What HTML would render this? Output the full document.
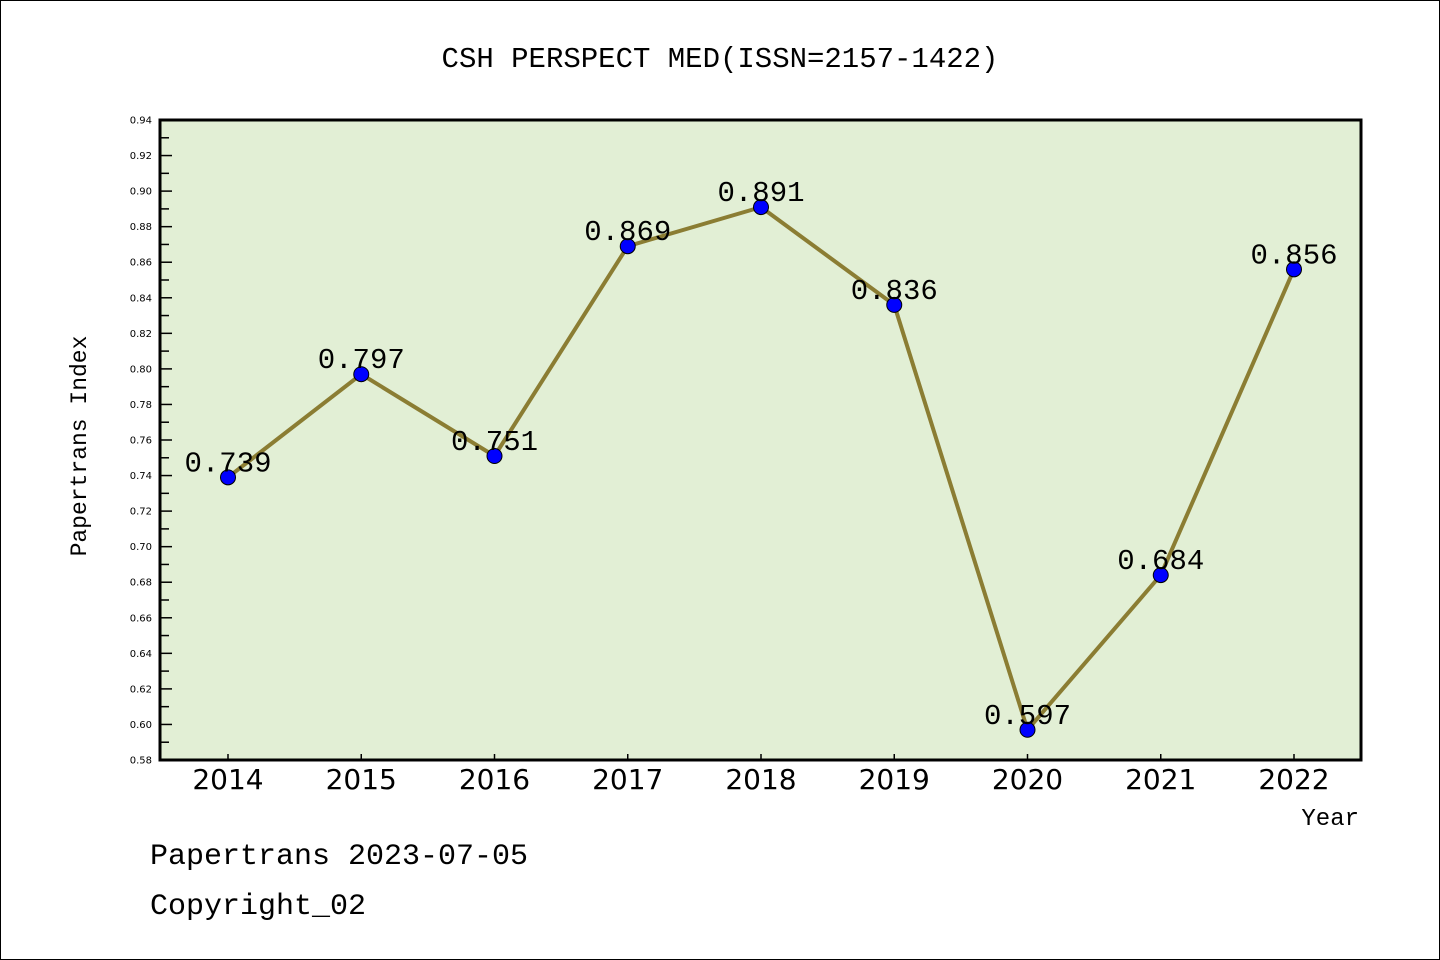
<!DOCTYPE html>
<html><head><meta charset="utf-8"><style>
html,body{margin:0;padding:0;background:#fff;}
svg{display:block;}
.mono{font-family:"Liberation Mono","WenQuanYi Zen Hei",monospace;}
.sans{font-family:"DejaVu Sans","Liberation Sans",sans-serif;}
</style></head><body>
<svg id="chart" width="1440" height="960" xmlns="http://www.w3.org/2000/svg">
<rect x="0.5" y="0.5" width="1439" height="959" fill="#fff" stroke="#000"/>
<text x="720" y="67" text-anchor="middle" font-size="29" class="mono">CSH PERSPECT MED(ISSN=2157-1422)</text>
<rect x="160" y="120" width="1201" height="640" fill="#e2efd5"/>
<g id="yaxis"></g>
<g id="xaxis"></g>
<g id="series"></g>
<rect x="160" y="120" width="1201" height="640" fill="none" stroke="#000" stroke-width="3"/>
<text x="86" y="446" transform="rotate(-90 86 446)" text-anchor="middle" font-size="23" class="mono">Papertrans Index</text>
<text x="1359" y="825" text-anchor="end" font-size="24" class="mono">Year</text>
<text x="150" y="864" font-size="30" class="mono">Papertrans 2023-07-05</text>
<text x="150" y="914" font-size="30" class="mono">Copyright_02</text>
</svg>
<script>
const years=["2014","2015","2016","2017","2018","2019","2020","2021","2022"];
const values=[0.739,0.797,0.751,0.869,0.891,0.836,0.597,0.684,0.856];
const valueLabels=["0.739","0.797","0.751","0.869","0.891","0.836","0.597","0.684","0.856"];
const yTicks=[0.58,0.60,0.62,0.64,0.66,0.68,0.70,0.72,0.74,0.76,0.78,0.80,0.82,0.84,0.86,0.88,0.90,0.92,0.94];
const yMin=0.58,yMax=0.94;
const NS="http://www.w3.org/2000/svg";
function y(v){return 760-(v-yMin)/(yMax-yMin)*640;}
function x(i){return 228+i*133.25;}
function mk(tag,attrs,parent,text){const e=document.createElementNS(NS,tag);for(const k in attrs)e.setAttribute(k,attrs[k]);if(text!==undefined)e.textContent=text;parent.appendChild(e);return e;}
const ya=document.getElementById('yaxis'),xa=document.getElementById('xaxis'),sg=document.getElementById('series');
yTicks.forEach((t,i)=>{
  const yy=y(t);
  const l=mk('line',{x1:160,x2:172,y1:yy,y2:yy,stroke:'#000','stroke-width':1.5},ya);
  
  
  const tx=mk('text',{x:152,y:yy+3.5,'text-anchor':'end','font-size':10,class:'sans'},ya,t.toFixed(2));
  
  
  if(i<yTicks.length-1){
    const ym=y(t+0.01);
    const m=mk('line',{x1:160,x2:169,y1:ym,y2:ym,stroke:'#000','stroke-width':1.5},ya);
    
    
  }
});
years.forEach((yr,i)=>{
  const l=mk('line',{x1:x(i),x2:x(i),y1:760,y2:754,stroke:'#000','stroke-width':1.5},xa);
  
  
  const t=mk('text',{x:x(i),y:789,'text-anchor':'middle','font-size':28,class:'sans'},xa,yr);
  
  
});
const pts=values.map((v,i)=>x(i)+','+y(v)).join(' ');
const pl=mk('polyline',{points:pts,fill:'none',stroke:'#8b7d33','stroke-width':4,'stroke-linejoin':'round'},sg);


values.forEach((v,i)=>{
  const c=mk('circle',{cx:x(i),cy:y(v),r:7.5,fill:'#0000ff',stroke:'#000','stroke-width':1},sg);
  
  
});
values.forEach((v,i)=>{
  const t=mk('text',{x:x(i),y:y(v)-6,'text-anchor':'middle','font-size':29,class:'mono'},sg,valueLabels[i]);
  
  
});
</script>
</body></html>
